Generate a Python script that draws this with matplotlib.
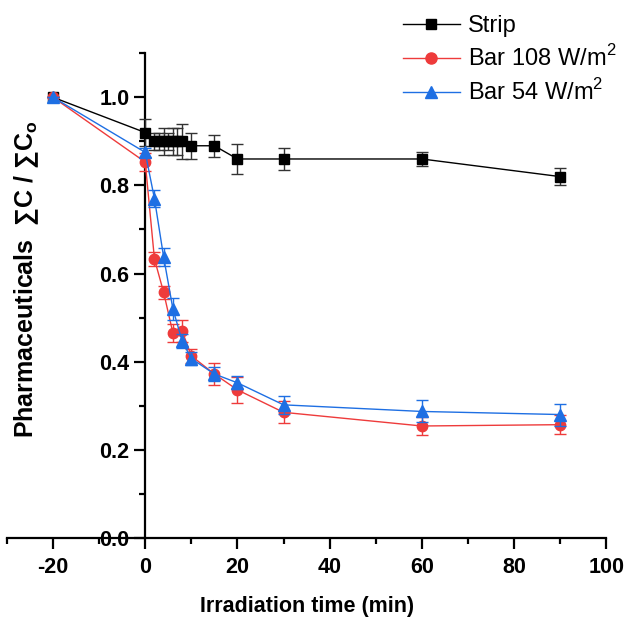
import matplotlib
matplotlib.use("Agg")
import matplotlib.pyplot as plt
from matplotlib.lines import Line2D

# Data
strip_t = [-20, 0, 2, 3, 4, 5, 6, 7, 8, 10, 15, 20, 30, 60, 90]
strip_y = [1.00, 0.92, 0.90, 0.90, 0.90, 0.90, 0.90, 0.90, 0.90, 0.89, 0.89, 0.86, 0.86, 0.86, 0.82]
strip_e = [0.0, 0.03, 0.02, 0.02, 0.03, 0.02, 0.03, 0.03, 0.04, 0.03, 0.025, 0.035, 0.025, 0.015, 0.02]

bar108_t = [-20, 0, 2, 4, 6, 8, 10, 15, 20, 30, 60, 90]
bar108_y = [1.00, 0.853, 0.633, 0.557, 0.465, 0.470, 0.413, 0.372, 0.336, 0.285, 0.254, 0.257]
bar108_e = [0.0, 0.02, 0.015, 0.015, 0.02, 0.025, 0.015, 0.025, 0.03, 0.025, 0.02, 0.022]

bar54_t = [-20, 0, 2, 4, 6, 8, 10, 15, 20, 30, 60, 90]
bar54_y = [1.00, 0.875, 0.770, 0.637, 0.520, 0.447, 0.407, 0.372, 0.352, 0.302, 0.287, 0.280]
bar54_e = [0.0, 0.01, 0.02, 0.02, 0.025, 0.015, 0.015, 0.015, 0.015, 0.02, 0.025, 0.025]

labels = ["Strip", "Bar 108 W/m$^2$", "Bar 54 W/m$^2$"]
x_major = [-20, 0, 20, 40, 60, 80, 100]
x_minor = [-30, -10, 10, 30, 50, 70, 90]
y_major = [0.0, 0.2, 0.4, 0.6, 0.8, 1.0]
y_minor = [0.1, 0.3, 0.5, 0.7, 0.9, 1.1]
y_major_labels = ["0.0", "0.2", "0.4", "0.6", "0.8", "1.0"]

FONT = ["Liberation Sans", "DejaVu Sans"]
plt.rcParams['font.family'] = FONT
plt.rcParams['mathtext.fontset'] = 'custom'
plt.rcParams['mathtext.rm'] = 'Liberation Sans'
plt.rcParams['mathtext.bf'] = 'Liberation Sans:bold'
plt.rcParams['axes.unicode_minus'] = False

fig = plt.figure(figsize=(6.27, 6.19), dpi=100)
ax = fig.add_axes([0.011, 0.131, 0.956, 0.783])

black = "#000000"
red = "#EE3B3B"
blue = "#1E6FE3"

ax.errorbar(strip_t, strip_y, yerr=strip_e, color=black, marker='s', ms=7,
            lw=1, capsize=4, elinewidth=1, capthick=1, ecolor="#333333", zorder=3)
ax.errorbar(bar108_t, bar108_y, yerr=bar108_e, color=red, marker='o', ms=7.5,
            lw=1, capsize=4, elinewidth=1, capthick=1, zorder=4)
ax.errorbar(bar54_t, bar54_y, yerr=bar54_e, color=blue, marker='^', ms=8,
            lw=1, capsize=4, elinewidth=1, capthick=1, zorder=5)

ax.set_xlim(-30, 100)
ax.set_ylim(0, 1.1)
ax.spines['top'].set_visible(False)
ax.spines['right'].set_visible(False)
ax.spines['left'].set_position(('data', 0))
ax.spines['left'].set_linewidth(1.6)
ax.spines['bottom'].set_linewidth(1.6)

ax.set_xticks(x_major)
ax.set_xticks(x_minor, minor=True)
ax.set_yticks(y_major)
ax.set_yticks(y_minor, minor=True)
ax.set_yticklabels(y_major_labels)

ax.tick_params(axis='both', which='major', length=8, width=1.6, labelsize=15.5, direction='out')
ax.tick_params(axis='both', which='minor', length=4, width=1.6, direction='out')
ax.tick_params(axis='x', pad=6)
for lab in ax.get_xticklabels() + ax.get_yticklabels():
    lab.set_fontweight('bold')

ax.set_xlabel("Irradiation time (min)", fontsize=15.5, fontweight='bold', labelpad=13)
fig.text(0.043, 0.549, "Pharmaceuticals  \u2211C / \u2211C$_\\mathbf{o}$", rotation=90,
         fontsize=18, fontweight='bold', ha='center', va='center')

handles = [
    Line2D([], [], color=black, marker='s', ms=7.5, lw=1),
    Line2D([], [], color=red, marker='o', ms=8, lw=1),
    Line2D([], [], color=blue, marker='^', ms=8.5, lw=1),
]
fig.legend(handles, labels, loc='upper left', bbox_to_anchor=(0.643, 0.975),
           frameon=False, fontsize=17, handlelength=2.4, handletextpad=0.35,
           labelspacing=0.33, borderpad=0, borderaxespad=0)

fig.savefig("out.png", dpi=100)
